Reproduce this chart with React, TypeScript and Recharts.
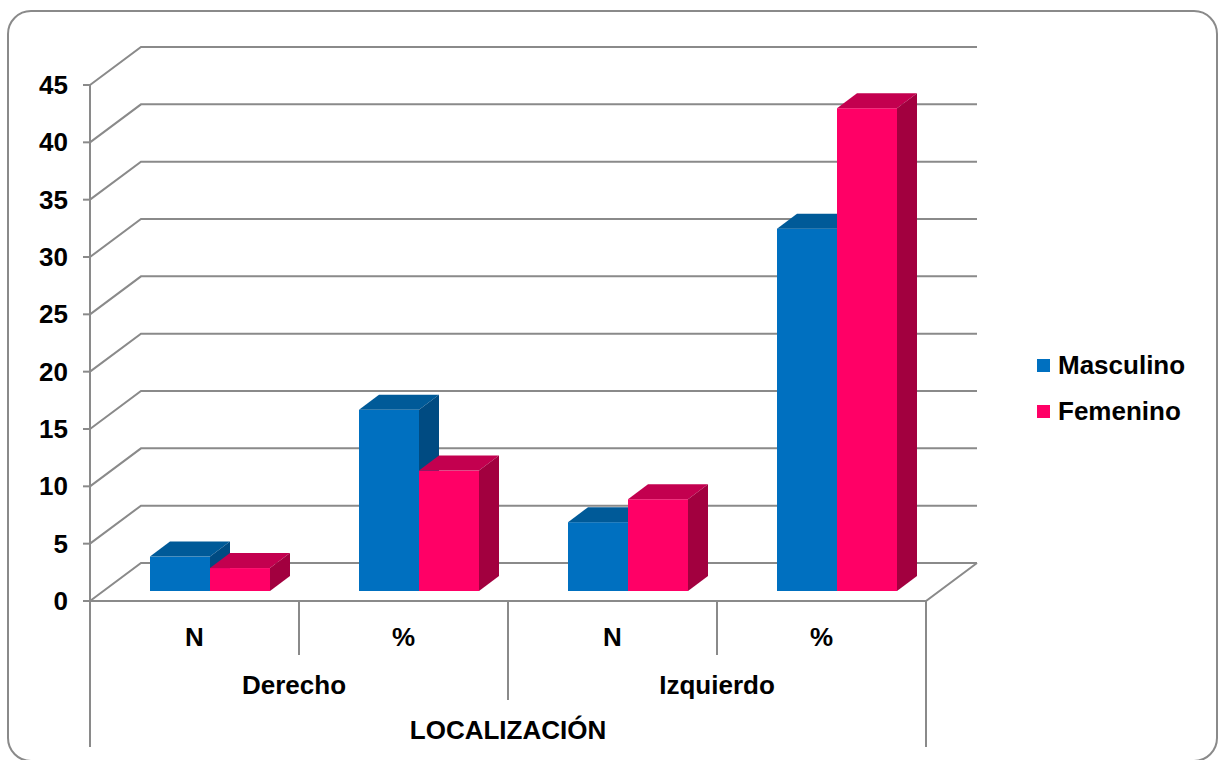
import React from 'react';
import { BarChart, Bar, XAxis, YAxis, CartesianGrid } from 'recharts';

const categories = ['N', '%', 'N', '%'];
const groups = ['Derecho', 'Derecho', 'Izquierdo', 'Izquierdo'];
const masculino = [3, 15.8, 6, 31.6];
const femenino = [2, 10.5, 8, 42.1];
const yTicks = [0, 5, 10, 15, 20, 25, 30, 35, 40, 45];
const axisTitle = 'LOCALIZACIÓN';

const series = [
  { key: 'masculino', name: 'Masculino', front: '#0070C0', top: '#005A98', side: '#004B82' },
  { key: 'femenino', name: 'Femenino', front: '#FF0066', top: '#C3004F', side: '#A2003F' },
];

const data = categories.map((c, i) => ({
  label: c,
  group: groups[i],
  masculino: masculino[i],
  femenino: femenino[i],
}));

// layout (bar plane = plane of the bar front faces)
const W = 1219;
const H = 760;
const PLOT_L = 105;
const PLOT_R = 941;
const PLOT_T = 75;
const PLOT_B = 591;
const YAXIS_W = 60;
const XAXIS_H = 30;
const BAND = (PLOT_R - PLOT_L) / categories.length;
// offsets from bar plane to front plane / back wall
const FRONT_DX = -15;
const FRONT_DY = 10;
const BACK_DX = 36;
const BACK_DY = -28;
// bar depth
const DEPTH_DX = 20;
const DEPTH_DY = 15;

const LINE = '#8a8a8a';
const FONT = 'Arial, "Liberation Sans", sans-serif';
const textStyle = { fontFamily: FONT, fontSize: 26, fontWeight: 700, fill: '#000' };

const FRONT_X = PLOT_L + FRONT_DX;

const GridLine = (p: any) => {
  const { x1, x2, y1 } = p;
  const fy = y1 + FRONT_DY;
  const by = y1 + BACK_DY;
  const fxl = x1 + FRONT_DX;
  const fxr = x2 + FRONT_DX;
  const bxl = x1 + BACK_DX;
  const bxr = x2 + BACK_DX;
  const isFloor = Math.abs(y1 - PLOT_B) < 1;
  return (
    <g key={`grid-${p.index}-${y1}`}>
      <polyline points={`${fxl},${fy} ${bxl},${by} ${bxr},${by}`} fill="none" stroke={LINE} strokeWidth={2} />
      {isFloor && (
        <>
          <polyline points={`${fxl},${fy} ${fxr},${fy} ${bxr},${by}`} fill="none" stroke={LINE} strokeWidth={2} />
          <line x1={fxl} y1={PLOT_T + FRONT_DY} x2={fxl} y2={fy} stroke={LINE} strokeWidth={2} />
        </>
      )}
    </g>
  );
};

const YTick = ({ y, payload }: any) => {
  const fy = y + FRONT_DY;
  return (
    <g>
      <line x1={FRONT_X - 7} y1={fy} x2={FRONT_X} y2={fy} stroke={LINE} strokeWidth={2} />
      <text x={68} y={fy} textAnchor="end" dominantBaseline="central" style={textStyle}>
        {payload.value}
      </text>
    </g>
  );
};

const XTick = ({ x, payload, index }: any) => {
  const fx = x + FRONT_DX;
  const baseY = PLOT_B + FRONT_DY;
  const last = index === categories.length - 1;
  const groupEnd = index % 2 === 1;
  const sepBottom = last ? 747 : groupEnd ? 700 : 655;
  return (
    <g>
      <text x={fx} y={637} textAnchor="middle" dominantBaseline="central" style={textStyle}>
        {payload.value}
      </text>
      <line x1={fx + BAND / 2} y1={baseY} x2={fx + BAND / 2} y2={sepBottom} stroke={LINE} strokeWidth={2} />
      {index === 0 && (
        <>
          <line x1={fx - BAND / 2} y1={baseY} x2={fx - BAND / 2} y2={747} stroke={LINE} strokeWidth={2} />
          <text x={FRONT_X + (PLOT_R - PLOT_L) / 2} y={730} textAnchor="middle" dominantBaseline="central" style={textStyle}>
            {axisTitle}
          </text>
        </>
      )}
      {groupEnd && (
        <text x={fx - BAND / 2 - (last ? 0 : 5)} y={685} textAnchor="middle" dominantBaseline="central" style={textStyle}>
          {groups[index]}
        </text>
      )}
    </g>
  );
};

const makeBox = (top: string, side: string) => (props: any) => {
  const { x, y, width: w, height: h, fill } = props;
  if (h == null || w == null) return <g />;
  return (
    <g>
      <rect x={x} y={y} width={w} height={h} fill={fill} />
      <polygon
        points={`${x},${y} ${x + DEPTH_DX},${y - DEPTH_DY} ${x + w + DEPTH_DX},${y - DEPTH_DY} ${x + w},${y}`}
        fill={top}
      />
      <polygon
        points={`${x + w},${y} ${x + w + DEPTH_DX},${y - DEPTH_DY} ${x + w + DEPTH_DX},${y + h - DEPTH_DY} ${x + w},${y + h}`}
        fill={side}
      />
    </g>
  );
};

export default function App() {
  return (
    <div style={{ position: 'absolute', left: 0, top: 0, width: W, height: H, background: '#fff', overflow: 'hidden' }}>
      <div
        style={{
          position: 'absolute',
          left: 7,
          top: 10,
          width: 1207,
          height: 748,
          border: `2px solid ${LINE}`,
          borderRadius: 24,
        }}
      />
      <div style={{ position: 'absolute', left: 0, top: 0 }}>
        <BarChart
          width={W}
          height={H}
          data={data}
          margin={{ top: PLOT_T, right: W - PLOT_R, bottom: H - PLOT_B - XAXIS_H, left: PLOT_L - YAXIS_W }}
          barGap={0}
          barSize={60}
        >
          <CartesianGrid vertical={false} horizontal={(p: any) => <GridLine {...p} />} />
          <XAxis dataKey="label" height={XAXIS_H} interval={0} tickLine={false} axisLine={false} tick={(p: any) => <XTick {...p} />} />
          <YAxis
            type="number"
            domain={[0, 45]}
            ticks={yTicks}
            width={YAXIS_W}
            tickLine={false}
            axisLine={false}
            tick={(p: any) => <YTick {...p} />}
          />
          {series.map((s) => (
            <Bar
              key={s.key}
              dataKey={s.key}
              name={s.name}
              fill={s.front}
              isAnimationActive={false}
              shape={makeBox(s.top, s.side)}
            />
          ))}
        </BarChart>
      </div>
      {series.map((s, i) => (
        <div
          key={s.key}
          style={{
            position: 'absolute',
            left: 1037,
            top: 349 + i * 46,
            display: 'flex',
            alignItems: 'center',
            fontFamily: FONT,
            fontSize: 26,
            fontWeight: 700,
            color: '#000',
            lineHeight: '32px',
          }}
        >
          <span style={{ display: 'inline-block', width: 13, height: 13, background: s.front, marginRight: 8 }} />
          {s.name}
        </div>
      ))}
    </div>
  );
}
